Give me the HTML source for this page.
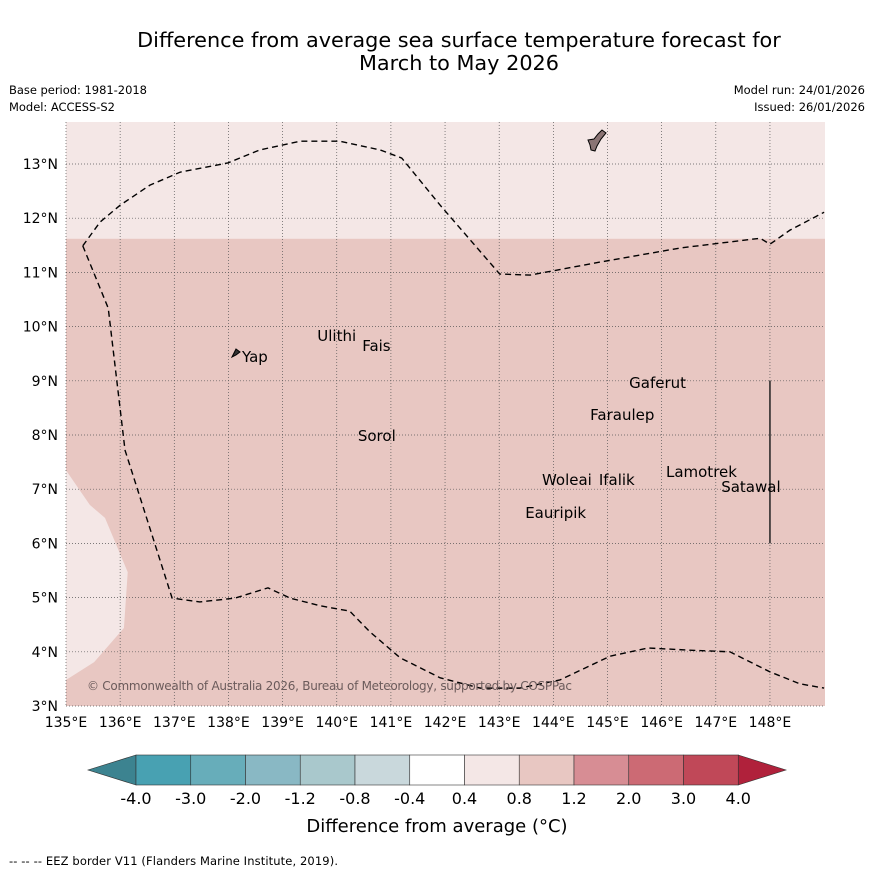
<!DOCTYPE html>
<html><head><meta charset="utf-8"><style>
body{margin:0;background:#fff;width:873px;height:873px;overflow:hidden;font-family:"Liberation Sans","DejaVu Sans",sans-serif}
svg text{font-family:"DejaVu Sans","Liberation Sans",sans-serif}
</style></head><body>
<svg id="c" width="873" height="873" xmlns="http://www.w3.org/2000/svg">
<text x="459" y="47" font-size="20.8" text-anchor="middle">Difference from average sea surface temperature forecast for</text>
<text x="459" y="70" font-size="20.8" text-anchor="middle">March to May 2026</text>
<text x="9" y="94" font-size="11.5" textLength="138">Base period: 1981-2018</text>
<text x="9" y="111" font-size="11.5" textLength="106">Model: ACCESS-S2</text>
<text x="865" y="94" font-size="11.5" text-anchor="end">Model run: 24/01/2026</text>
<text x="865" y="111" font-size="11.5" text-anchor="end">Issued: 26/01/2026</text>
<g id="map"></g>
<g id="cb"></g>
<text x="437" y="832" font-size="18" text-anchor="middle">Difference from average (°C)</text>
<text x="9" y="865" font-size="11.5" textLength="329">--  --  -- EEZ border V11 (Flanders Marine Institute, 2019).</text>
</svg>
<script>
const gridLons=[135,136,137,138,139,140,141,142,143,144,145,146,147,148];
const gridLats=[3,4,5,6,7,8,9,10,11,12,13];
const boundaryLat=11.62;
const coolPatch=[[135,7.35],[135.44,6.71],[135.72,6.47],[136.14,5.47],[136.07,4.44],[135.52,3.81],[135,3.48]];
const eezLower=[[135.31,11.49],[135.78,10.34],[136.09,7.72],[136.96,4.99],[137.47,4.92],[138.12,4.99],[138.73,5.18],[139.14,4.99],[139.69,4.85],[140.24,4.75],[140.61,4.37],[141.17,3.89],[141.91,3.52],[142.65,3.33],[143.38,3.33],[144.12,3.48],[145.05,3.92],[145.75,4.07],[146.52,4.03],[147.26,4.0],[148.0,3.63],[148.55,3.41],[149.0,3.33]];
const eezUpper=[[135.31,11.49],[135.63,11.93],[136.0,12.24],[136.55,12.61],[137.11,12.85],[137.99,13.02],[138.58,13.26],[139.32,13.42],[140.06,13.42],[140.8,13.26],[141.2,13.11],[141.91,12.24],[143.01,10.97],[143.57,10.95],[144.86,11.19],[146.34,11.45],[147.82,11.63],[148.0,11.52],[148.37,11.78],[149.0,12.11]];
const islandNames=["Yap","Ulithi","Fais","Gaferut","Faraulep","Sorol","Woleai","Ifalik","Lamotrek","Satawal","Eauripik"];
const islandLons=[138.25,139.64,140.47,145.4,144.68,140.39,143.79,144.84,146.08,147.1,143.48];
const islandLats=[9.44,9.83,9.64,8.96,8.37,7.98,7.17,7.17,7.32,7.04,6.56];
const cbLevels=["-4.0","-3.0","-2.0","-1.2","-0.8","-0.4","0.4","0.8","1.2","2.0","3.0","4.0"];
const cbColors=["#48a1b2","#67adba","#89b8c4","#a9c8cc","#c9d8dc","#ffffff","#f4e7e6","#e8c7c2","#d78d94","#cc6a74","#c04858"];
const x=l=>66+(l-135)*54.15, y=t=>706-(t-3)*54.2;
const NS="http://www.w3.org/2000/svg";
function mk(tag,attrs,parent){const e=document.createElementNS(NS,tag);for(const k in attrs)e.setAttribute(k,attrs[k]);parent.appendChild(e);return e;}
const map=document.getElementById('map');
const X0=66,X1=825,Y0=122,Y1=706;
let r=mk('rect',{x:X0,y:Y0,width:X1-X0,height:Y1-Y0,fill:'#f4e7e6'},map);

r=mk('rect',{x:X0,y:y(boundaryLat),width:X1-X0,height:Y1-y(boundaryLat),fill:'#e8c7c2'},map);

let p=mk('polygon',{points:coolPatch.map(d=>x(d[0])+','+y(d[1])).join(' '),fill:'#f4e7e6'},map);

gridLons.forEach(l=>{const e=mk('line',{x1:x(l),x2:x(l),y1:Y0,y2:Y1,stroke:'#555','stroke-width':0.7,'stroke-dasharray':'1,2'},map);

const t=mk('text',{x:x(l),y:727,'font-size':14,'text-anchor':'middle'},map);t.textContent=l+'°E';
});
gridLats.forEach(l=>{const e=mk('line',{x1:X0,x2:X1,y1:y(l),y2:y(l),stroke:'#555','stroke-width':0.7,'stroke-dasharray':'1,2'},map);

const t=mk('text',{x:58,y:y(l)+5,'font-size':14,'text-anchor':'end'},map);t.textContent=l+'°N';
});
[eezLower,eezUpper].forEach(a=>{const e=mk('polyline',{points:a.map(d=>x(d[0])+','+y(d[1])).join(' '),fill:'none',stroke:'#000','stroke-width':1.4,'stroke-dasharray':'6,4'},map);
});
let v=mk('line',{x1:x(148),x2:x(148),y1:y(9),y2:y(6),stroke:'#222','stroke-width':1.5},map);

let g=mk('path',{d:'M588,140 L594,139 L598,134 L602,130 L606,133 L601,139 L597,146 L595,151 L591,150 L590,145 Z',fill:'#8a7474',stroke:'#000','stroke-width':1},map);

let yp=mk('path',{d:'M232,357 L236,349 L240,352 L236,355 Z',fill:'#333',stroke:'#000','stroke-width':1},map);

islandNames.forEach((n,i)=>{const t=mk('text',{x:x(islandLons[i]),y:y(islandLats[i])+5,'font-size':15},map);t.textContent=n;
});
let cp=mk('text',{x:87,y:690,'font-size':12,fill:'#6b5b5b',textLength:485},map);cp.textContent='© Commonwealth of Australia 2026, Bureau of Meteorology, supported by COSPPac';

const cb=document.getElementById('cb');const cx0=136,cw=54.75,cy=755,ch=30;
let tl=mk('polygon',{points:`${cx0},${cy} ${cx0},${cy+ch} 88,${cy+ch/2}`,fill:'#3c8390',stroke:'#333','stroke-width':0.6},cb);

const cEnd=cx0+cw*cbColors.length;
let tr=mk('polygon',{points:`${cEnd},${cy} ${cEnd},${cy+ch} 786,${cy+ch/2}`,fill:'#b0213b',stroke:'#333','stroke-width':0.6},cb);

cbColors.forEach((c,i)=>{const e=mk('rect',{x:cx0+i*cw,y:cy,width:cw,height:ch,fill:c,stroke:'#333','stroke-width':0.6},cb);
});
cbLevels.forEach((l,i)=>{const t=mk('text',{x:cx0+i*cw,y:804,'font-size':16,'text-anchor':'middle'},cb);t.textContent=l;
});
</script>
</body></html>
